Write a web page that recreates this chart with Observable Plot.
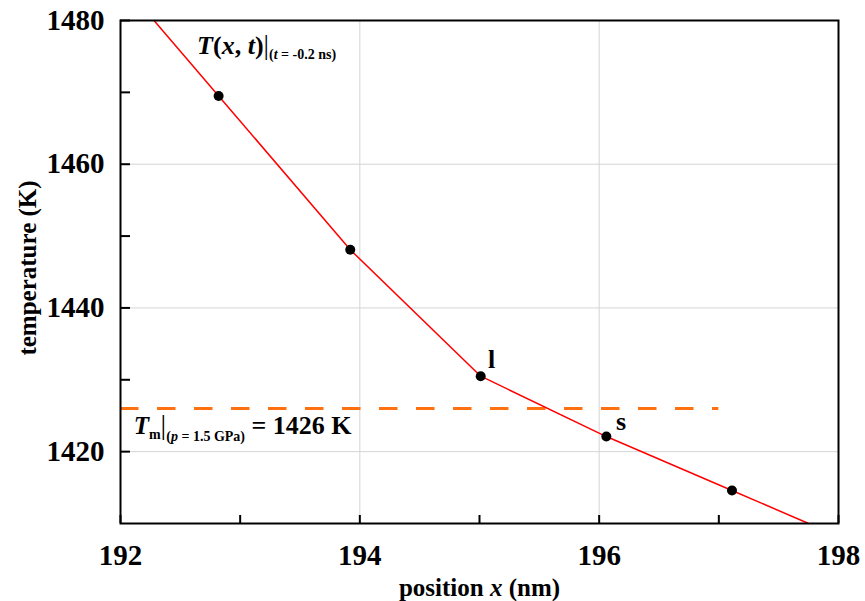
<!DOCTYPE html>
<html><head><meta charset="utf-8">
<script src="https://cdn.jsdelivr.net/npm/d3@7"></script>
<script src="https://cdn.jsdelivr.net/npm/@observablehq/plot@0.6"></script>
<style>body{margin:0;background:#fff}</style>
</head><body><div id="chart"></div>
<script>
// ---- data ----
const pointX = [192.82, 193.92, 195.01, 196.06, 197.11];
const pointY = [1469.5, 1448.1, 1430.5, 1422.1, 1414.6];
const lineX = [192.28, 192.82, 193.92, 195.01, 196.06, 197.11, 197.75];
const lineY = [1480, 1469.5, 1448.1, 1430.5, 1422.1, 1414.6, 1410];
const meltT = 1426;
const meltX = [192, 197];
const xTicks = [192, 194, 196, 198];
const xMinor = [193, 195, 197];
const yTicks = [1420, 1440, 1460, 1480];
const yMinor = [1430, 1450, 1470];
const phaseLabels = ["l", "s"];
const phaseX = [195.07, 196.14];
const phaseY = [1431.6, 1423.0];
const curveLabelPos = [192.64, 1475.4];
const meltLabelPos = [192.11, 1422.4];

const serif = "'Liberation Serif', 'Times New Roman', serif";
const W = 865, H = 601, mL = 120, mR = 27, mT = 20, mB = 78;
const plotW = W - mL - mR, plotH = H - mT - mB;

const pts = pointX.map((x, i) => ({x, y: pointY[i]}));
const line = lineX.map((x, i) => ({x, y: lineY[i]}));
const phases = phaseLabels.map((t, i) => ({t, x: phaseX[i], y: phaseY[i]}));

const chart = Plot.plot({
  width: W, height: H,
  marginLeft: mL, marginRight: mR, marginTop: mT, marginBottom: mB,
  style: {fontFamily: serif, background: "white"},
  x: {domain: [192, 198], axis: null},
  y: {domain: [1410, 1480], axis: null},
  marks: [
    Plot.ruleX(xTicks, {x: d => d, stroke: "#d4d4d4", strokeWidth: 1}),
    Plot.ruleY(yTicks, {y: d => d, stroke: "#d4d4d4", strokeWidth: 1}),
    Plot.ruleY([meltT], {y: d => d, x1: meltX[0], x2: meltX[1], stroke: "#ff7010", strokeWidth: 3, strokeDasharray: "18.5,18.5"}),
    Plot.line(line, {x: "x", y: "y", stroke: "#ff0000", strokeWidth: 1.5}),
    Plot.dot(pts, {x: "x", y: "y", r: 5, fill: "black", stroke: "none"}),
    Plot.tickX(xTicks.concat(xMinor), {x: d => d, stroke: "black", strokeWidth: 2, insetTop: plotH - 8}),
    Plot.tickY(yTicks.concat(yMinor), {y: d => d, stroke: "black", strokeWidth: 2, insetRight: plotW - 10}),
    Plot.frame({stroke: "black", strokeWidth: 2}),
    Plot.text(xTicks, {x: d => d, text: d => String(d), frameAnchor: "bottom", dy: 32, textAnchor: "middle", lineAnchor: "middle", fontSize: 29, fontWeight: "bold", fill: "black"}),
    Plot.text(yTicks, {y: d => d, text: d => String(d), frameAnchor: "left", dx: -16, textAnchor: "end", lineAnchor: "middle", fontSize: 29, fontWeight: "bold", fill: "black"}),
    Plot.text(["position x (nm)"], {text: d => d, frameAnchor: "bottom", dy: 72, textAnchor: "middle", lineAnchor: "bottom", fontSize: 25, fontWeight: "bold", fill: "black", className: "xtitle"}),
    Plot.text(["temperature (K)"], {text: d => d, frameAnchor: "left", dx: -93, dy: -4, rotate: -90, textAnchor: "middle", lineAnchor: "middle", fontSize: 25, fontWeight: "bold", fill: "black"}),
    Plot.text(phases, {x: "x", y: "y", text: "t", textAnchor: "start", lineAnchor: "bottom", fontSize: 26, fontWeight: "bold", fill: "black"}),
    Plot.text(["T(x, t)|(t = -0.2 ns)"], {x: () => curveLabelPos[0], y: () => curveLabelPos[1], text: d => d, textAnchor: "start", lineAnchor: "bottom", fontSize: 26, fontWeight: "bold", fill: "black", className: "curvelabel"}),
    Plot.text(["Tm|(p = 1.5 GPa) = 1426 K"], {x: () => meltLabelPos[0], y: () => meltLabelPos[1], text: d => d, textAnchor: "start", lineAnchor: "bottom", fontSize: 25, fontWeight: "bold", fill: "black", className: "meltlabel"})
  ]
});
document.getElementById("chart").appendChild(chart);

function rich(selector, parts) {
  d3.select(chart).selectAll(selector).each(function() {
    const el = d3.select(this);
    el.text(null);
    for (const p of parts) {
      const ts = el.append("tspan").text(p.t);
      if (p.size) ts.attr("font-size", p.size);
      if (p.style) ts.attr("font-style", p.style);
      if (p.weight) ts.attr("font-weight", p.weight);
      if (p.dy) ts.attr("dy", p.dy);
    }
  });
}
rich(".xtitle text", [
  {t: "position "}, {t: "x", style: "italic"}, {t: " (nm)"}
]);
rich(".curvelabel text", [
  {t: "T", style: "italic"}, {t: "("}, {t: "x", style: "italic"}, {t: ", "}, {t: "t", style: "italic"}, {t: ")"},
  {t: "|", weight: "normal", size: 27},
  {t: "(", size: 14, dy: 5}, {t: "t", size: 14, style: "italic"}, {t: " = -0.2 ns)", size: 14}
]);
rich(".meltlabel text", [
  {t: "T", style: "italic"}, {t: "m", size: 14, dy: 5},
  {t: "|", weight: "normal", size: 28, dy: -5},
  {t: "(", size: 14, dy: 7}, {t: "p", size: 14, style: "italic"}, {t: " = 1.5 GPa)", size: 14},
  {t: " = 1426 K", size: 26, dy: -7}
]);
</script>
</body></html>
